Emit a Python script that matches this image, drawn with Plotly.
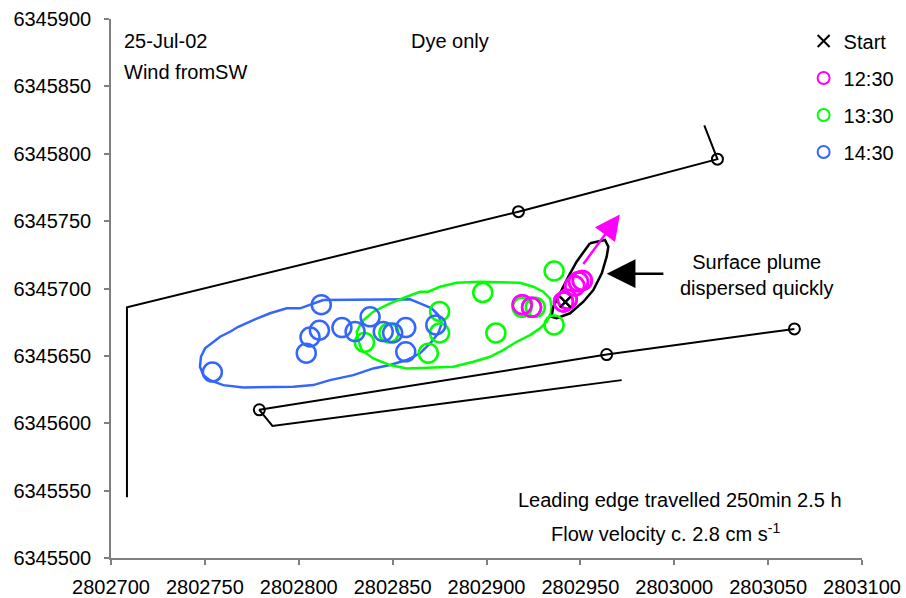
import plotly.graph_objects as go

# Shoreline / boom lines (easting, northing)
upper_x = [2803016, 2803023, 2802917, 2802708.5, 2802708.5]
upper_y = [6345821, 6345796, 6345757, 6345686, 6345545]
lower_x = [2803064, 2802964, 2802779, 2802786, 2802972]
lower_y = [6345670, 6345651, 6345610, 6345598, 6345632]

# Survey stations on the lines
station_x = [2803023, 2802917, 2803064, 2802964, 2802779]
station_y = [6345796, 6345757, 6345670, 6345651, 6345610]

# Dye release point
start_x = [2802942]
start_y = [6345690]

# Dye sample positions by time
t1230_x = [2802919, 2802924, 2802941, 2802943, 2802947, 2802949, 2802951]
t1230_y = [6345688, 6345686, 6345690, 6345692, 6345702, 6345705, 6345706]
t1330_x = [2802898, 2802875, 2802875, 2802835, 2802848, 2802869, 2802905,
           2802936, 2802936, 2802919, 2802926]
t1330_y = [6345697, 6345683, 6345667, 6345660, 6345667, 6345652, 6345667,
           6345713, 6345673, 6345686, 6345686]
t1430_x = [2802754, 2802812, 2802811, 2802806, 2802804, 2802823, 2802830,
           2802838, 2802845, 2802850, 2802857, 2802857, 2802873]
t1430_y = [6345638, 6345688, 6345669, 6345664, 6345652, 6345671, 6345668,
           6345679, 6345668, 6345667, 6345671, 6345653, 6345673]

# Plume outlines
plume_1430_x = [2802813.1, 2802859.3, 2802864.6, 2802870.8, 2802874.3, 2802876.1,
                2802874.3, 2802870.8, 2802864.6, 2802857.5, 2802848.6, 2802839.7,
                2802829.1, 2802816.6, 2802807.7, 2802797.1, 2802770.5, 2802759.8,
                2802752.7, 2802749.2, 2802747.4, 2802747.9, 2802750.1, 2802753.6,
                2802758.1, 2802763.4, 2802767.8, 2802775.8, 2802784.7, 2802793.6,
                2802800.7, 2802813.1]
plume_1430_y = [6345691.5, 6345692.0, 6345689.0, 6345685.3, 6345680.3, 6345674.1,
                6345666.7, 6345660.5, 6345651.9, 6345646.9, 6345643.2, 6345640.7,
                6345635.7, 6345632.0, 6345628.3, 6345627.0, 6345626.6, 6345628.3,
                6345632.0, 6345635.7, 6345641.9, 6345649.3, 6345655.6, 6345659.3,
                6345664.2, 6345667.9, 6345671.6, 6345676.6, 6345681.6, 6345685.3,
                6345685.3, 6345691.5]
plume_1330_x = [2802857.5, 2802864.6, 2802869.0, 2802875.2, 2802884.1, 2802896.5,
                2802917.8, 2802924.9, 2802930.2, 2802933.8, 2802934.7, 2802934.2,
                2802932.1, 2802928.5, 2802923.2, 2802916.1, 2802908.9, 2802901.9,
                2802893.0, 2802882.3, 2802857.5, 2802848.6, 2802839.7, 2802833.5,
                2802831.7, 2802830.9, 2802833.5, 2802839.7, 2802848.6, 2802857.5]
plume_1330_y = [6345693.9, 6345697.6, 6345697.6, 6345701.3, 6345704.3, 6345705.0,
                6345704.3, 6345701.3, 6345697.6, 6345692.7, 6345686.5, 6345681.6,
                6345675.3, 6345670.4, 6345665.4, 6345660.5, 6345654.3, 6345649.3,
                6345645.6, 6345641.9, 6345640.7, 6345643.2, 6345648.1, 6345654.3,
                6345661.7, 6345667.9, 6345675.3, 6345682.8, 6345689.0, 6345693.9]
plume_surf_x = [2802955.1, 2802963.1, 2802964.9, 2802964.0, 2802961.4, 2802956.9,
                2802951.6, 2802944.5, 2802937.4, 2802934.7, 2802935.6, 2802939.1,
                2802943.6, 2802948.0, 2802952.5, 2802955.1]
plume_surf_y = [6345733.6, 6345736.0, 6345731.0, 6345723.6, 6345711.3, 6345698.9,
                6345690.2, 6345681.6, 6345677.9, 6345679.0, 6345686.5, 6345696.4,
                6345708.8, 6345719.9, 6345728.6, 6345733.6]

# Drift direction arrow (tail, head)
drift_x = [2802951, 2802971]
drift_y = [6345717, 6345755]
# Pointer to surface plume (tail, head)
pointer_x = [2802995, 2802964]
pointer_y = [6345711, 6345711]

x_ticks = list(range(2802700, 2803101, 50))
y_ticks = list(range(6345500, 6345901, 50))

MAGENTA = "#FF00FF"
GREEN = "#00FF00"
BLUE = "#3366FF"
FONT = "Liberation Sans, Arial, sans-serif"

fig = go.Figure()

for xs, ys in [(upper_x, upper_y), (lower_x, lower_y)]:
    fig.add_trace(go.Scatter(x=xs, y=ys, mode="lines",
                             line=dict(color="black", width=2),
                             showlegend=False, hoverinfo="skip"))

fig.add_trace(go.Scatter(x=station_x, y=station_y, mode="markers",
                         marker=dict(symbol="circle-open", size=11, color="black",
                                     line=dict(width=2, color="black")),
                         showlegend=False, hoverinfo="skip"))

for xs, ys, col in [(plume_1430_x, plume_1430_y, BLUE),
                    (plume_1330_x, plume_1330_y, GREEN),
                    (plume_surf_x, plume_surf_y, "black")]:
    fig.add_trace(go.Scatter(x=xs, y=ys, mode="lines",
                             line=dict(color=col, width=2.5),
                             showlegend=False, hoverinfo="skip"))

fig.add_trace(go.Scatter(x=start_x, y=start_y, mode="markers", name="Start",
                         legendgroup="a",
                         marker=dict(symbol="x-thin", size=11, color="black",
                                     line=dict(width=2.2, color="black"))))

for xs, ys, col, nm, grp in [(t1230_x, t1230_y, MAGENTA, "12:30", "b"),
                             (t1330_x, t1330_y, GREEN, "13:30", "c"),
                             (t1430_x, t1430_y, BLUE, "14:30", "d")]:
    fig.add_trace(go.Scatter(x=xs, y=ys, mode="markers", name=nm, legendgroup=grp,
                             marker=dict(symbol="circle-open", size=19, color=col,
                                         line=dict(width=2.5, color=col))))

# Redraw the surface samples above the other plumes
fig.add_trace(go.Scatter(x=t1230_x, y=t1230_y, mode="markers", showlegend=False,
                         hoverinfo="skip",
                         marker=dict(symbol="circle-open", size=19, color=MAGENTA,
                                     line=dict(width=2.5, color=MAGENTA))))
fig.add_trace(go.Scatter(x=start_x, y=start_y, mode="markers", showlegend=False,
                         hoverinfo="skip",
                         marker=dict(symbol="x-thin", size=11, color="black",
                                     line=dict(width=2.2, color="black"))))

fig.add_annotation(x=drift_x[1], y=drift_y[1], ax=drift_x[0], ay=drift_y[0],
                   xref="x", yref="y", axref="x", ayref="y", text="",
                   showarrow=True, arrowhead=2, arrowsize=2, arrowwidth=2.5,
                   arrowcolor=MAGENTA)
fig.add_annotation(x=pointer_x[1], y=pointer_y[1], ax=pointer_x[0], ay=pointer_y[0],
                   xref="x", yref="y", axref="x", ayref="y", text="",
                   showarrow=True, arrowhead=2, arrowsize=2.3, arrowwidth=2.5,
                   arrowcolor="black")

txt = dict(showarrow=False, xref="paper", yref="paper",
           font=dict(family=FONT, size=20, color="black"))
fig.add_annotation(x=0.0147, y=0.959, xanchor="left", yanchor="middle",
                   text="25-Jul-02", **txt)
fig.add_annotation(x=0.0147, y=0.901, xanchor="left", yanchor="middle",
                   text="Wind fromSW", **txt)
fig.add_annotation(x=0.4514, y=0.9586, xanchor="center", yanchor="middle",
                   text="Dye only", **txt)
fig.add_annotation(x=0.8596, y=0.525, xanchor="center", yanchor="middle",
                   text="Surface plume<br>dispersed quickly", **txt)
fig.add_annotation(x=0.7577, y=0.1076, xanchor="center", yanchor="middle",
                   text="Leading edge travelled 250min 2.5 h", **txt)
fig.add_annotation(x=0.739, y=0.0482, xanchor="center", yanchor="middle",
                   text="Flow velocity c. 2.8 cm s<sup>-1</sup>", **txt)

axis_common = dict(showgrid=False, zeroline=False, showline=True, automargin=False,
                   linecolor="#808080", linewidth=1.5, ticks="outside",
                   ticklen=5, tickwidth=1.5, tickcolor="#808080",
                   tickformat="d", tickfont=dict(family=FONT, size=20, color="black"))

fig.update_xaxes(range=[2802700, 2803100], tickvals=x_ticks,
                 ticklabelstandoff=5, **axis_common)
fig.update_yaxes(range=[6345500, 6345900], tickvals=y_ticks,
                 ticklabelstandoff=9, **axis_common)

fig.update_layout(
    width=906, height=598,
    margin=dict(l=111, r=44, t=19, b=40, autoexpand=False),
    paper_bgcolor="white", plot_bgcolor="white",
    font=dict(family=FONT, size=20, color="black"),
    showlegend=True,
    legend=dict(x=0.887, y=0.964, xref="container", yref="container",
                xanchor="left", yanchor="top",
                bgcolor="rgba(0,0,0,0)", traceorder="grouped",
                tracegroupgap=8, itemsizing="constant", itemwidth=30,
                font=dict(family=FONT, size=20, color="black")),
)

fig.write_html("out.html")
